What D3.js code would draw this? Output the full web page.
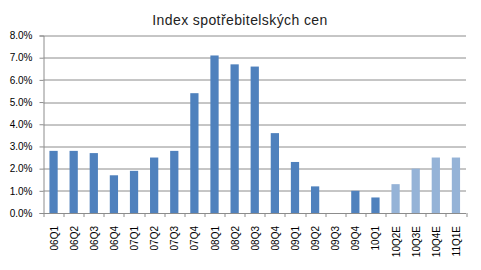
<!DOCTYPE html>
<html>
<head>
<meta charset="utf-8">
<script src="https://cdn.jsdelivr.net/npm/d3@7"></script>
<style>
  body { margin: 0; background: #fff; }
  svg { display: block; }
</style>
</head>
<body>
<div id="chart"></div>
<script>
// data
const categories = ["06Q1", "06Q2", "06Q3", "06Q4", "07Q1", "07Q2", "07Q3", "07Q4",
  "08Q1", "08Q2", "08Q3", "08Q4", "09Q1", "09Q2", "09Q3", "09Q4", "10Q1",
  "10Q2E", "10Q3E", "10Q4E", "11Q1E"];
const cpiValues = [2.8, 2.8, 2.7, 1.7, 1.9, 2.5, 2.8, 5.4,
  7.1, 6.7, 6.6, 3.6, 2.3, 1.2, 0, 1.0, 0.7,
  1.3, 2.0, 2.5, 2.5];
const yTicks = [0, 1, 2, 3, 4, 5, 6, 7, 8];
const title = "Index spotřebitelských cen";

const W = 481, H = 270;
const margin = { top: 35.5, right: 15, bottom: 57, left: 43.5 };
const w = W - margin.left - margin.right;
const h = H - margin.top - margin.bottom;
const font = "'Liberation Sans', Arial, sans-serif";

const svg = d3.select("#chart").append("svg")
  .attr("width", W).attr("height", H);

svg.append("text")
  .attr("x", 240).attr("y", 25)
  .attr("text-anchor", "middle")
  .attr("font-family", font)
  .attr("font-size", 14)
  .attr("letter-spacing", 0.4)
  .attr("fill", "#222")
  .text(title);

const g = svg.append("g").attr("transform", `translate(${margin.left},${margin.top})`);

const x = d3.scaleBand().domain(categories).range([0, w]).paddingInner(0.59).paddingOuter(0.295);
const y = d3.scaleLinear().domain([0, 8]).range([h, 0]);

// gridlines
g.append("g")
  .selectAll("line")
  .data(yTicks.slice(1))
  .join("line")
  .attr("x1", 0).attr("x2", w)
  .attr("y1", d => Math.round(y(d)) + 0.5).attr("y2", d => Math.round(y(d)) + 0.5)
  .attr("stroke", "#8c8c8c").attr("stroke-width", 1);

// bars
g.append("g")
  .selectAll("rect")
  .data(categories.map((c, i) => ({ c, v: cpiValues[i] })).filter(d => d.v > 0))
  .join("rect")
  .attr("x", d => x(d.c))
  .attr("width", x.bandwidth())
  .attr("y", d => y(d.v))
  .attr("height", d => h - y(d.v))
  .attr("fill", d => d.c.endsWith("E") ? "#95b3d7" : "#4f81bd");

// y axis
const yAxis = g.append("g")
  .call(d3.axisLeft(y).tickValues(yTicks).tickSize(4).tickPadding(7)
    .tickFormat(d => d.toFixed(1) + "%"));
yAxis.select(".domain").attr("stroke", "#8c8c8c");
yAxis.selectAll(".tick line").attr("stroke", "#8c8c8c");
yAxis.selectAll("text")
  .attr("font-family", font)
  .attr("font-size", 10).attr("fill", "#000");

// x axis: ticks on category boundaries
const xAxisG = g.append("g").attr("transform", `translate(0,${h})`);
const step = x.step();
xAxisG.append("line")
  .attr("x1", 0).attr("x2", w).attr("y1", 0.5).attr("y2", 0.5)
  .attr("stroke", "#8c8c8c");
xAxisG.selectAll("line.tk")
  .data(d3.range(categories.length + 1))
  .join("line").attr("class", "tk")
  .attr("x1", i => Math.round(i * step) + 0.5).attr("x2", i => Math.round(i * step) + 0.5)
  .attr("y1", 0).attr("y2", 4)
  .attr("stroke", "#8c8c8c");
xAxisG.selectAll("text")
  .data(categories)
  .join("text")
  .attr("transform", d => `translate(${x(d) + x.bandwidth() / 2 + 4},13) rotate(-90)`)
  .attr("text-anchor", "end")
  .attr("font-family", font)
  .attr("font-size", 10)
  .attr("fill", "#000")
  .text(d => d);
</script>
</body>
</html>
